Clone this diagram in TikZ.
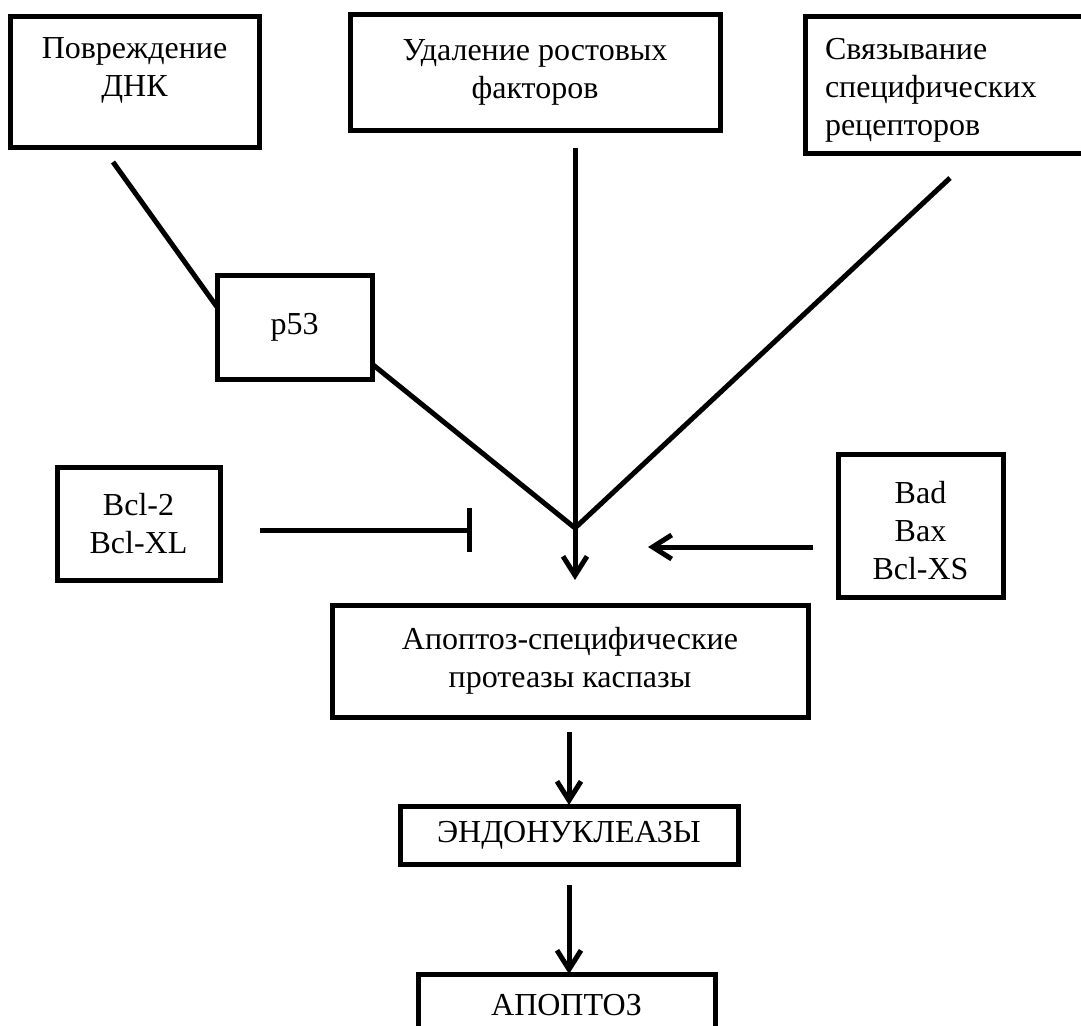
\documentclass[tikz,border=0pt]{standalone}
\usepackage{fontspec}
\setmainfont{Liberation Serif}
\usetikzlibrary{arrows.meta}
\begin{document}
\begin{tikzpicture}[x=1pt,y=-1pt,
  box/.style={draw, line width=5pt, rectangle, inner sep=0pt, align=center,
    font=\fontsize{32}{38}\selectfont},
  conn/.style={line width=5pt},
  arr/.style={conn, -{Straight Barb[length=19pt,width=24pt]}},
  inh/.style={conn, -{Bar[width=44pt]}}]
\useasboundingbox (0,0) rectangle (1081,1025);
\clip (0,0) rectangle (1081,1025);
\fill[white] (0,0) rectangle (1081,1025);

% boxes
\node[box, minimum width=249pt, minimum height=130pt] (dna) at (134.5,82)
  {Повреждение\\ДНК\\[-8pt]\mbox{}};
\node[box, minimum width=370pt, minimum height=115pt] (growth) at (535,72.5)
  {Удаление ростовых\\факторов};
\node[box, minimum width=290pt, minimum height=136pt, align=left,
  text width=250pt, inner xsep=20pt] (recep) at (950,85)
  {\mbox{}\\[-6pt]Связывание\\специфических\\рецепторов};
\node[box, minimum width=155pt, minimum height=104pt] (p53) at (294.5,327) {p53};
\node[box, minimum width=163pt, minimum height=113pt] (bcl) at (138.5,523.5)
  {Bcl-2\\Bcl-XL};
\node[box, minimum width=165pt, minimum height=143pt] (bad) at (920.5,525.5)
  {\mbox{}\\[-6pt]Bad\\Bax\\Bcl-XS};
\node[box, minimum width=476pt, minimum height=112pt] (casp) at (570,661)
  {Апоптоз-специфические\\протеазы каспазы};
\node[box, minimum width=338pt, minimum height=58pt] (endo) at (569,835)
  {ЭНДОНУКЛЕАЗЫ};
\node[box, minimum width=297pt, minimum height=62pt] (apop) at (566.5,1005)
  {АПОПТОЗ};

% connector points
\coordinate (j) at (575,528);
\coordinate (dnaOut) at (113,162);
\coordinate (p53In) at (217,307);
\coordinate (p53Out) at (372,364);
\coordinate (growthOut) at (575,148);
\coordinate (recepOut) at (950,178);
\coordinate (jEnd) at (575,580);
\coordinate (bclOut) at (260,530);
\coordinate (bclEnd) at (472,530);
\coordinate (badOut) at (813,547);
\coordinate (badEnd) at (648,547);
\coordinate (caspOut) at (569,732);
\coordinate (endoIn) at (569,805);
\coordinate (endoOut) at (569,885);
\coordinate (apopIn) at (569,974);

% connectors
\draw[conn] (dnaOut) -- (p53In);
\draw[conn] (p53Out) -- (j);
\draw[conn] (growthOut) -- (j);
\draw[conn] (recepOut) -- (j);
\draw[arr] (j) -- (jEnd);
\draw[inh] (bclOut) -- (bclEnd);
\draw[arr] (badOut) -- (badEnd);
\draw[arr] (caspOut) -- (endoIn);
\draw[arr] (endoOut) -- (apopIn);
\end{tikzpicture}
\end{document}
